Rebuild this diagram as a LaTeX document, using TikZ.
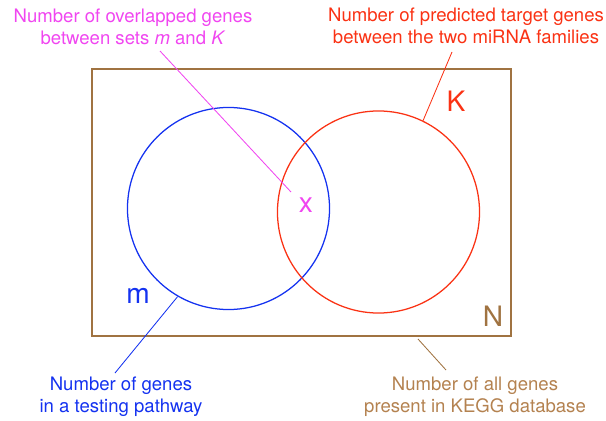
\documentclass[tikz,border=0pt]{standalone}
\usepackage{fontspec}
\setmainfont{TeX Gyre Heros}
\usetikzlibrary{positioning}
\definecolor{setblue}{RGB}{20,50,240}
\definecolor{setred}{RGB}{250,50,20}
\definecolor{setpink}{RGB}{240,70,240}
\definecolor{setbrown}{RGB}{160,115,65}
\definecolor{notebrown}{RGB}{180,130,80}

\begin{document}
\begin{tikzpicture}[x=0.025cm, y=-0.025cm,
    venn/.style={circle, draw, line width=0.9pt, minimum size=5.05cm, inner sep=0pt},
    universe/.style={draw=setbrown, line width=1.5pt, minimum width=10.475cm, minimum height=6.675cm, inner sep=0pt},
    biglabel/.style={font=\fontsize{20}{24}\selectfont},
    note/.style={font=\fontsize{13.2}{15.5}\selectfont, align=center},
    pointer/.style={line width=0.6pt}
]
    \useasboundingbox (0,0) rectangle (606,421);

    % --- Sets ---
    \node[universe] (setN) at (301.5,202.5) {};
    \node[venn, draw=setblue] (setm) at (228.5,208.5) {};
    \node[venn, draw=setred] (setK) at (378.5,212) {};

    % --- Letters ---
    \node[biglabel, text=setred] (labK) at (456,101) {K};
    \node[biglabel, text=setblue] (labm) at (138,296) {m};
    \node[biglabel, text=setbrown] (labN) at (493,316) {N};
    \node[biglabel, text=setpink] (labx) at (306,205) {x};

    % --- Notes ---
    \node[note, text=setpink] (notex) at (133,27) {Number of overlapped genes\\between sets \textit{m} and \textit{K}};
    \node[note, text=setred] (noteK) at (466,26) {Number of predicted target genes\\between the two miRNA families};
    \node[note, text=setblue] (notem) at (121,397) {Number of genes\\in a testing pathway};
    \node[note, text=notebrown] (noteN) at (475,397) {Number of all genes\\present in KEGG database};

    % --- Pointers ---
    \coordinate (xtip) at (291,192);
    \coordinate (xtail) at (160,51);
    \coordinate (Ktail) at (452,52);
    \coordinate (mtail) at (115,373);
    \coordinate (Ntail) at (446,370);
    \coordinate (Ntip) at (418,339);
    \draw[pointer, setpink] (xtail) -- (xtip);
    \draw[pointer, setred] (Ktail) -- (setK.64);
    \draw[pointer, setblue] (mtail) -- (setm.240);
    \draw[pointer, setbrown] (Ntail) -- (Ntip);
\end{tikzpicture}
\end{document}
